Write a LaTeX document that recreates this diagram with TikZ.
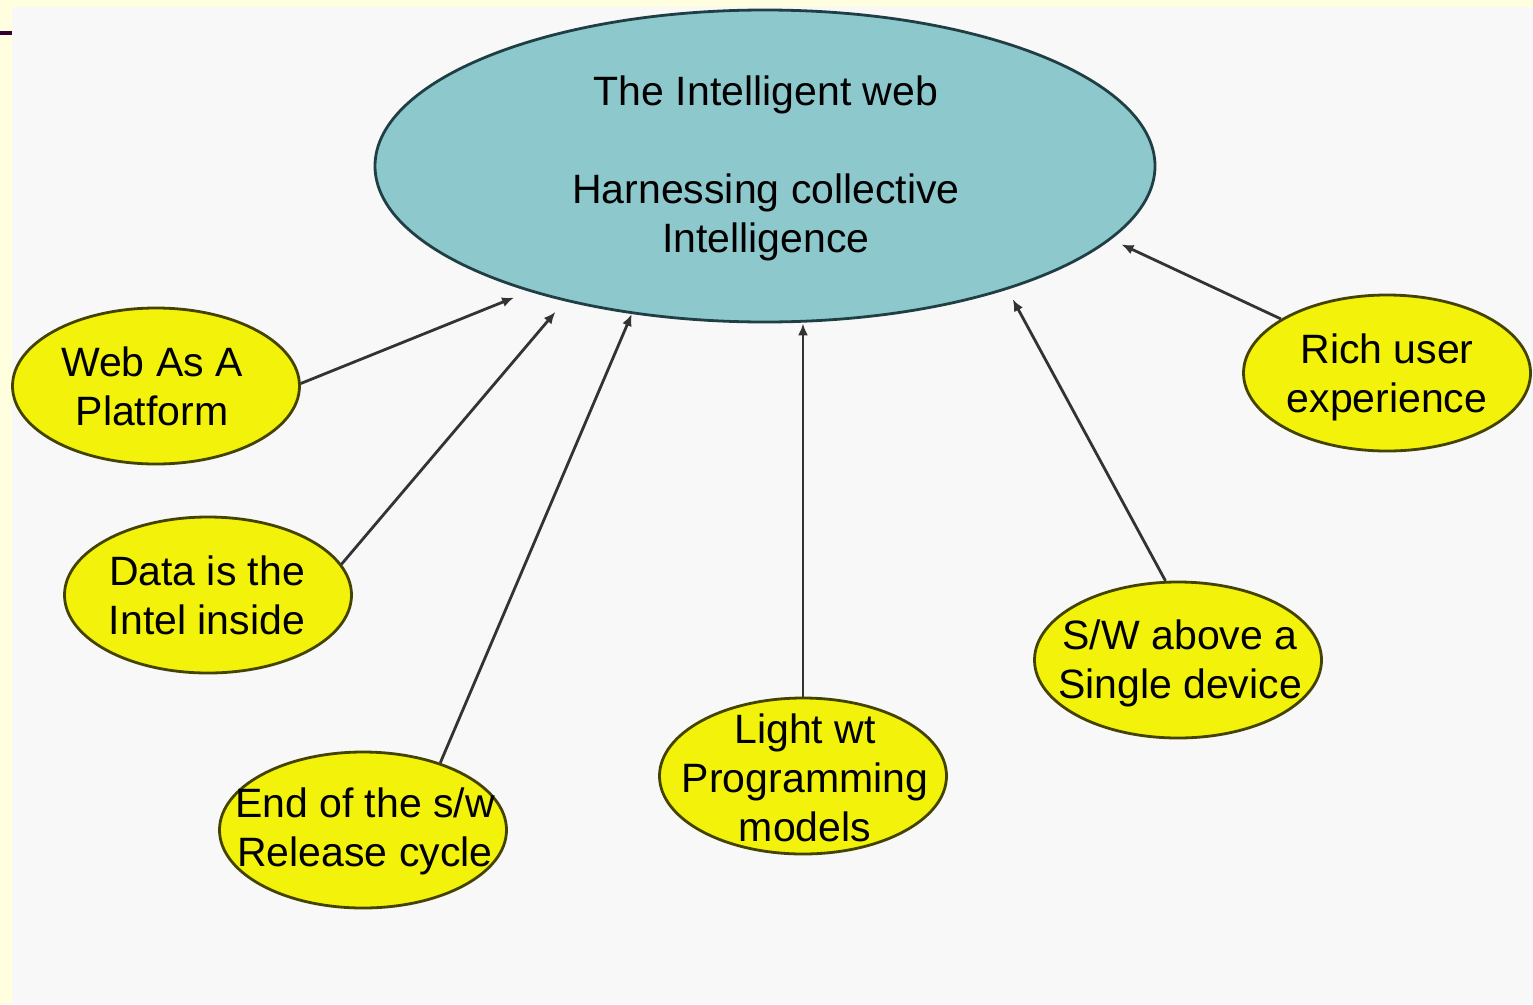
\documentclass[tikz,border=0pt]{standalone}
\usepackage{fontspec}
\setmainfont{Liberation Sans}
\usetikzlibrary{shapes.geometric,arrows.meta}
\definecolor{bgyellow}{HTML}{FFFFE0}
\definecolor{bggray}{HTML}{F8F8F8}
\definecolor{tealfill}{HTML}{8DC8CD}
\definecolor{tealline}{HTML}{1F3F44}
\definecolor{yelfill}{HTML}{F2F20A}
\definecolor{yelline}{HTML}{444400}
\definecolor{arrowc}{HTML}{333333}
\definecolor{purplebar}{HTML}{330033}
\tikzset{
  mainell/.style={ellipse, draw=tealline, fill=tealfill, line width=2.8pt, minimum width=780pt, minimum height=312pt, inner sep=0pt},
  yelell/.style={ellipse, draw=yelline, fill=yelfill, line width=2.8pt, minimum width=287pt, minimum height=156pt, inner sep=0pt},
  lbl/.style={align=center, inner sep=0pt, font=\fontsize{41}{49}\selectfont},
  conn/.style={draw=arrowc, line width=2.8pt, -{Latex[length=12pt,width=10pt]}},
}
\begin{document}
\begin{tikzpicture}[x=1pt,y=-1pt]
\useasboundingbox (0,0) rectangle (1533,1004);
\fill[bgyellow] (0,0) rectangle (1533,1004);
\fill[bggray] (12,7) rectangle (1533,1004);
\fill[purplebar] (0,31) rectangle (12,35);

\node[mainell] (main) at (765,166) {};
\node[lbl] (mainT) at (766,168) {The Intelligent web\\ \strut\\ Harnessing collective\\ Intelligence};

\node[yelell] (web) at (156,386) {};
\node[lbl] (webT) at (152,386) {Web As A\\ Platform};
\node[yelell] (data) at (208,595) {};
\node[lbl] (dataT) at (207,595) {Data is the\\ Intel inside};
\node[yelell] (endc) at (363,830) {};
\node[lbl] (endT) at (365,831) {End of the s/w\\ Release cycle};
\node[yelell] (light) at (803,776) {};
\node[lbl] (lightT) at (805,778) {Light wt\\ Programming\\ models};
\node[yelell] (sw) at (1178,660) {};
\node[lbl] (swT) at (1180,663) {S/W above a\\ Single device};
\node[yelell] (rich) at (1387,373) {};
\node[lbl] (richT) at (1387,377) {Rich user\\ experience};

\draw[conn, shorten >=16pt] (web.1) -- (main.208);
\draw[conn, shorten >=14pt] (data.13) -- (main.214);
\draw[conn] (endc.41) -- (main.228.3);
\draw[conn] (light.north) -- (light.north |- main.south);
\draw[conn, shorten >=11pt] (sw.99) -- (main.333.7);
\draw[conn, shorten >=11.5pt] (rich.153) -- (main.348);
\end{tikzpicture}
\end{document}
